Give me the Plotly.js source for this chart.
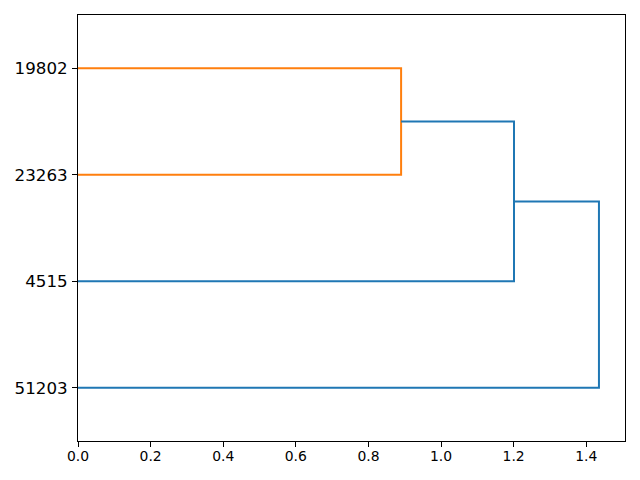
<!DOCTYPE html>
<html>
<head>
<meta charset="utf-8">
<script src="https://cdn.plot.ly/plotly-3.0.1.min.js"></script>
<style>html,body{margin:0;padding:0;background:#fff;}#chart{width:640px;height:480px;}</style>
</head>
<body>
<div id="chart"></div>
<script>
// Leaf labels, ordered bottom to top as drawn
var leafLabels = ["51203", "4515", "23263", "19802"];
// Merges: children given as leaf labels or "c<index>" for an earlier merge
var mergeLeft  = ["19802", "c0", "c1"];
var mergeRight = ["23263", "4515", "51203"];
var mergeDist  = [0.890, 1.201, 1.435];
var mergeColor = ["#ff7f0e", "#1f77b4", "#1f77b4"];

// Leaf positions (scipy dendrogram convention: 5, 15, 25, ...)
var pos = {}, height = {};
leafLabels.forEach(function (l, i) { pos[l] = 5 + 10 * i; height[l] = 0; });

var traces = [];
mergeLeft.forEach(function (a, k) {
  var b = mergeRight[k], d = mergeDist[k];
  var ya = pos[a], yb = pos[b];
  traces.push({
    type: "scatter", mode: "lines",
    x: [height[a], d, d, height[b]],
    y: [ya, ya, yb, yb],
    line: {color: mergeColor[k], width: 2},
    hoverinfo: "skip", showlegend: false
  });
  pos["c" + k] = (ya + yb) / 2;
  height["c" + k] = d;
});

var maxD = Math.max.apply(null, mergeDist);

var layout = {
  width: 640, height: 480,
  margin: {l: 78, r: 15, t: 15, b: 39, pad: 0},
  paper_bgcolor: "#fff", plot_bgcolor: "#fff",
  font: {family: "DejaVu Sans", color: "#000"},
  showlegend: false,
  xaxis: {
    range: [0, maxD * 1.05], showgrid: false, zeroline: false,
    tickmode: "array", tickvals: [0, 0.2, 0.4, 0.6, 0.8, 1.0, 1.2, 1.4],
    ticktext: ["0.0", "0.2", "0.4", "0.6", "0.8", "1.0", "1.2", "1.4"],
    ticks: "outside", ticklen: 5, tickwidth: 1, tickcolor: "#000",
    showline: true, linecolor: "#000", linewidth: 1, mirror: true,
    ticklabelstandoff: -3,
    tickfont: {size: 13.9, family: "DejaVu Sans", color: "#000"}
  },
  yaxis: {
    range: [0, 10 * leafLabels.length], showgrid: false, zeroline: false,
    tickmode: "array",
    tickvals: leafLabels.map(function (l) { return pos[l]; }),
    ticktext: leafLabels,
    ticks: "outside", ticklen: 5, tickwidth: 1, tickcolor: "#000",
    showline: true, linecolor: "#000", linewidth: 1, mirror: true,
    ticklabelstandoff: 1,
    tickfont: {size: 16.7, family: "DejaVu Sans", color: "#000"}
  }
};

Plotly.newPlot("chart", traces, layout, {displayModeBar: false, staticPlot: true});
</script>
</body>
</html>
